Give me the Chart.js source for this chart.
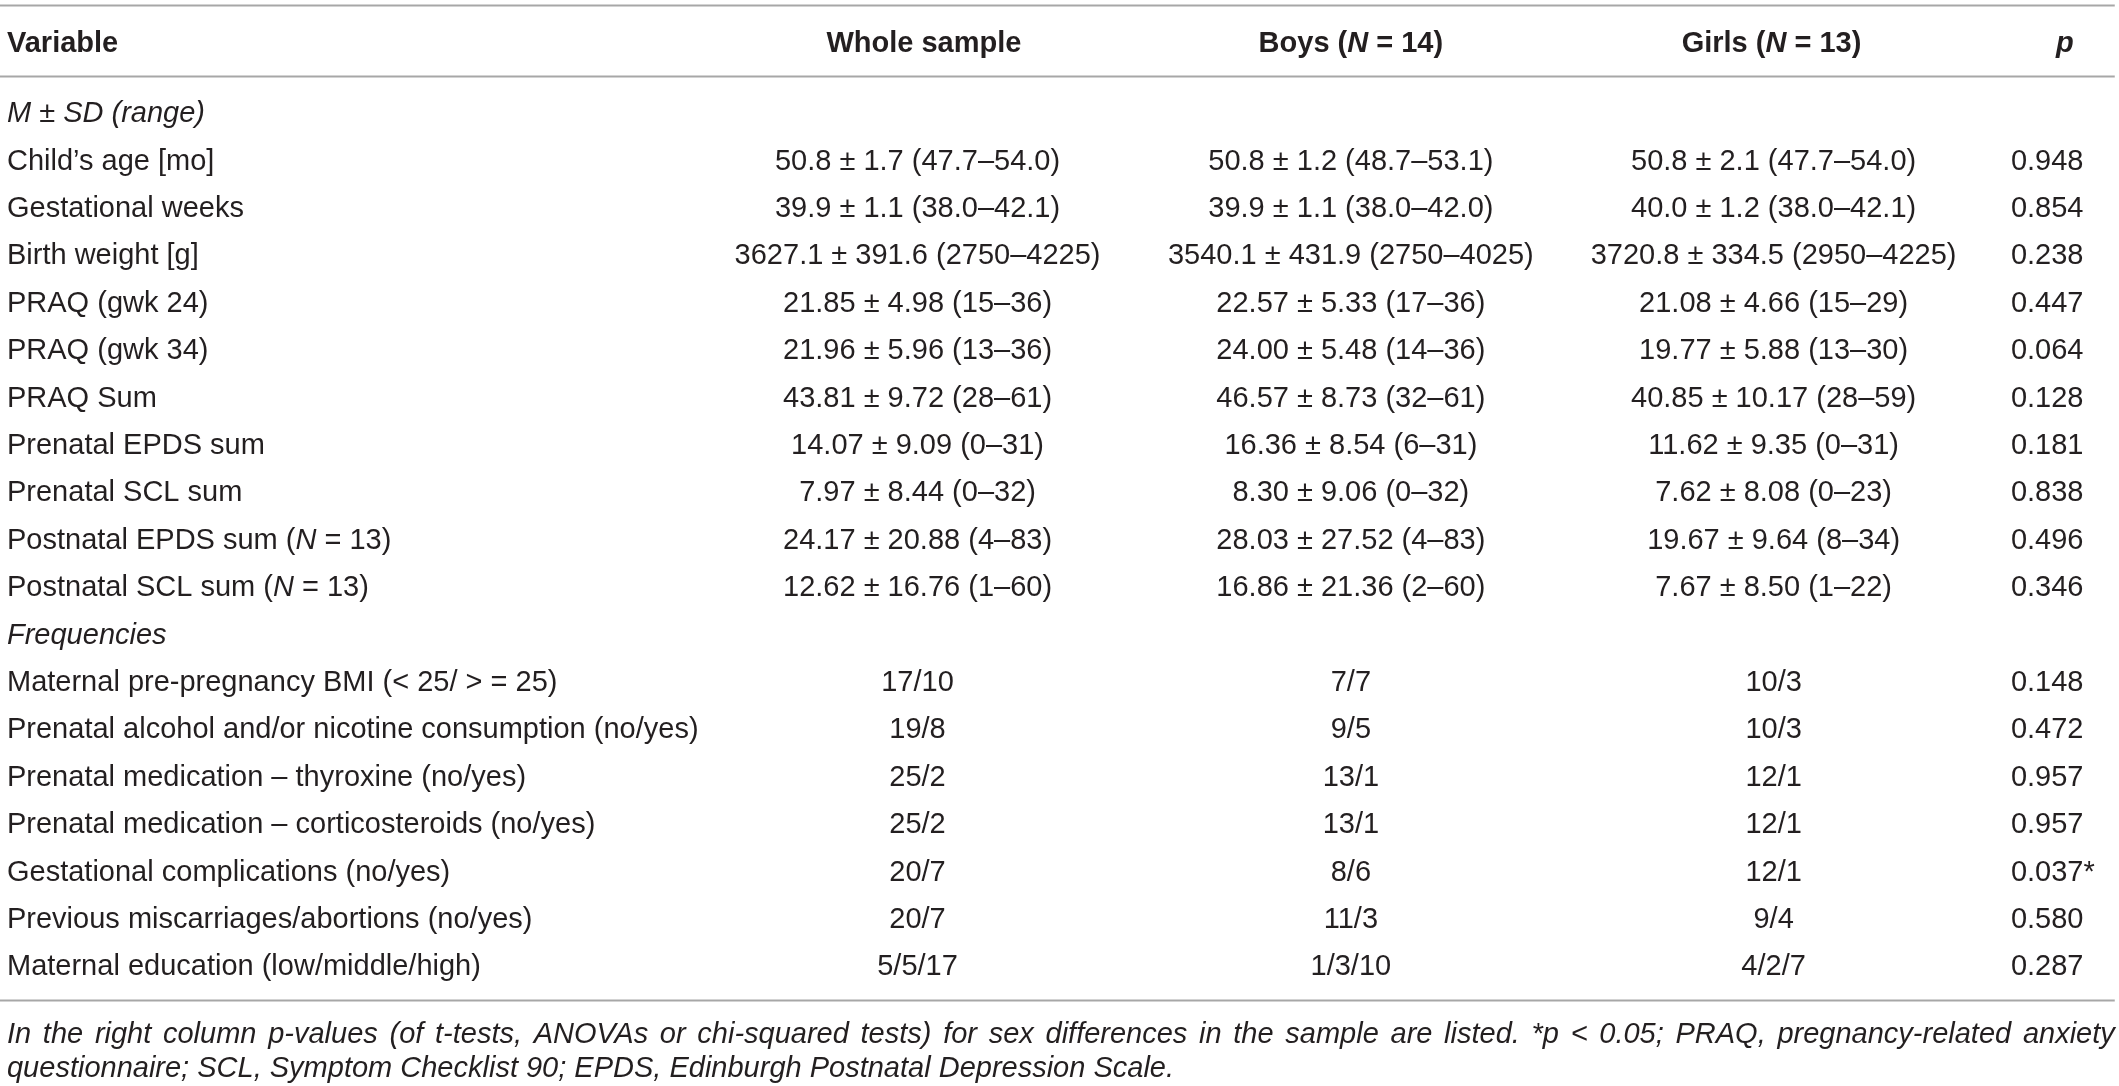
<!DOCTYPE html>
<html>
<head>
<meta charset="utf-8">
<script src="https://cdn.jsdelivr.net/npm/chart.js@4.4.1/dist/chart.umd.min.js"></script>
<style>
    html, body { margin: 0; padding: 0; background: #ffffff; }
    #wrap { width: 2119px; height: 1086px; position: relative; }
</style>
</head>
<body>
<div id="wrap"><canvas id="tableChart"></canvas></div>
<script>
// TABLE DATA (text between _ _ is italic)

const headers = ["Variable", "Whole sample", "Boys (_N_ = 14)", "Girls (_N_ = 13)", "_p_"];

const variables = [
    "_M ± SD (range)_",
    "Child’s age [mo]",
    "Gestational weeks",
    "Birth weight [g]",
    "PRAQ (gwk 24)",
    "PRAQ (gwk 34)",
    "PRAQ Sum",
    "Prenatal EPDS sum",
    "Prenatal SCL sum",
    "Postnatal EPDS sum (_N_ = 13)",
    "Postnatal SCL sum (_N_ = 13)",
    "_Frequencies_",
    "Maternal pre-pregnancy BMI (< 25/ > = 25)",
    "Prenatal alcohol and/or nicotine consumption (no/yes)",
    "Prenatal medication – thyroxine (no/yes)",
    "Prenatal medication – corticosteroids (no/yes)",
    "Gestational complications (no/yes)",
    "Previous miscarriages/abortions (no/yes)",
    "Maternal education (low/middle/high)"
];

const wholeSample = [
    "", "50.8 ± 1.7 (47.7–54.0)", "39.9 ± 1.1 (38.0–42.1)", "3627.1 ± 391.6 (2750–4225)",
    "21.85 ± 4.98 (15–36)", "21.96 ± 5.96 (13–36)", "43.81 ± 9.72 (28–61)",
    "14.07 ± 9.09 (0–31)", "7.97 ± 8.44 (0–32)", "24.17 ± 20.88 (4–83)", "12.62 ± 16.76 (1–60)",
    "", "17/10", "19/8", "25/2", "25/2", "20/7", "20/7", "5/5/17"
];

const boys = [
    "", "50.8 ± 1.2 (48.7–53.1)", "39.9 ± 1.1 (38.0–42.0)", "3540.1 ± 431.9 (2750–4025)",
    "22.57 ± 5.33 (17–36)", "24.00 ± 5.48 (14–36)", "46.57 ± 8.73 (32–61)",
    "16.36 ± 8.54 (6–31)", "8.30 ± 9.06 (0–32)", "28.03 ± 27.52 (4–83)", "16.86 ± 21.36 (2–60)",
    "", "7/7", "9/5", "13/1", "13/1", "8/6", "11/3", "1/3/10"
];

const girls = [
    "", "50.8 ± 2.1 (47.7–54.0)", "40.0 ± 1.2 (38.0–42.1)", "3720.8 ± 334.5 (2950–4225)",
    "21.08 ± 4.66 (15–29)", "19.77 ± 5.88 (13–30)", "40.85 ± 10.17 (28–59)",
    "11.62 ± 9.35 (0–31)", "7.62 ± 8.08 (0–23)", "19.67 ± 9.64 (8–34)", "7.67 ± 8.50 (1–22)",
    "", "10/3", "10/3", "12/1", "12/1", "12/1", "9/4", "4/2/7"
];

const pValues = [
    "", "0.948", "0.854", "0.238", "0.447", "0.064", "0.128", "0.181", "0.838", "0.496", "0.346",
    "", "0.148", "0.472", "0.957", "0.957", "0.037*", "0.580", "0.287"
];

const footLines = [
    "In the right column p-values (of t-tests, ANOVAs or chi-squared tests) for sex differences in the sample are listed. *p < 0.05; PRAQ, pregnancy-related anxiety",
    "questionnaire; SCL, Symptom Checklist 90; EPDS, Edinburgh Postnatal Depression Scale."
];

// layout (x in % of width, y in row units)
const colX     = [0.33, 43.3, 63.75, 83.7, 94.9];
const colAlign = ["left", "center", "center", "center", "left"];
const headerX  = [0.33, 43.6, 63.75, 83.6, 97.45];
const headerY  = -1.48;
const rules    = [{ y: -2.31, w: 2 }, { y: -0.8, w: 2 }, { y: 18.68, w: 2 }];
const footY    = [19.42, 20.15];

const TEXT  = "#231f20";
const RULE  = "#a7a7a7";
const FONT  = "'Liberation Sans', Arial, sans-serif";
const SIZE  = 29;

/* -------- rich text helpers -------- */

function segments(str, baseItalic) {
    return str.split("_").map((t, i) => ({ t, it: baseItalic !== (i % 2 === 1) }));
}

function setFont(ctx, italic, bold) {
    ctx.font = `${italic ? "italic " : ""}${bold ? "bold " : ""}${SIZE}px ${FONT}`;
}

function richWidth(ctx, segs, bold) {
    return segs.reduce((w, s) => { setFont(ctx, s.it, bold); return w + ctx.measureText(s.t).width; }, 0);
}

function drawRich(ctx, str, x, y, align, bold) {
    const segs = segments(str, false);
    const w = richWidth(ctx, segs, bold);
    let cx = align === "center" ? x - w / 2 : align === "right" ? x - w : x;
    segs.forEach(s => {
        setFont(ctx, s.it, bold);
        ctx.fillText(s.t, cx, y);
        cx += ctx.measureText(s.t).width;
    });
}

function drawJustified(ctx, line, left, right, y) {
    const words = line.split(" ");
    const total = words.reduce((w, t) => w + ctx.measureText(t).width, 0);
    const gap = (right - left - total) / (words.length - 1);
    let cx = left;
    words.forEach(t => {
        ctx.fillText(t, cx, y);
        cx += ctx.measureText(t).width + gap;
    });
}

/* -------- table plugin -------- */

const tablePlugin = {
    id: "tableText",
    afterDatasetsDraw(chart) {
        const ctx = chart.ctx;
        const xs = chart.scales.x, ys = chart.scales.y;
        const area = chart.chartArea;
        ctx.save();
        ctx.textBaseline = "middle";
        ctx.fillStyle = TEXT;

        // horizontal rules
        ctx.strokeStyle = RULE;
        rules.forEach(r => {
            const py = Math.round(ys.getPixelForValue(r.y)) + 0.5;
            ctx.lineWidth = r.w;
            ctx.beginPath();
            ctx.moveTo(area.left, py);
            ctx.lineTo(xs.getPixelForValue(99.8), py);
            ctx.stroke();
        });

        // header
        headers.forEach((h, c) => {
            drawRich(ctx, h, xs.getPixelForValue(headerX[c]), ys.getPixelForValue(headerY), c === 0 ? "left" : "center", true);
        });

        // cells, positioned by each dataset's points
        chart.data.datasets.forEach((ds, c) => {
            const meta = chart.getDatasetMeta(c);
            meta.data.forEach((pt, r) => {
                const txt = ds.cells[r];
                if (txt) drawRich(ctx, txt, pt.x, pt.y, colAlign[c], false);
            });
        });

        // footnote
        setFont(ctx, true, false);
        const left = xs.getPixelForValue(colX[0]);
        const right = xs.getPixelForValue(99.8);
        drawJustified(ctx, footLines[0], left, right, ys.getPixelForValue(footY[0]));
        ctx.fillText(footLines[1], left, ys.getPixelForValue(footY[1]));
        ctx.restore();
    }
};

/* -------- chart -------- */

const columns = [variables, wholeSample, boys, girls, pValues];

new Chart(document.getElementById("tableChart"), {
    type: "scatter",
    data: {
        datasets: columns.map((cells, c) => ({
            cells,
            data: cells.map((_, r) => ({ x: colX[c], y: r })),
            pointRadius: 0,
            pointHoverRadius: 0
        }))
    },
    options: {
        responsive: true,
        maintainAspectRatio: false,
        devicePixelRatio: 1,
        animation: false,
        events: [],
        layout: { padding: 0 },
        plugins: { legend: { display: false }, tooltip: { enabled: false } },
        scales: {
            x: { type: "linear", min: 0, max: 100, display: false },
            y: { type: "linear", min: -2.41, max: 20.5, reverse: true, display: false }
        }
    },
    plugins: [tablePlugin]
});
</script>
</body>
</html>
